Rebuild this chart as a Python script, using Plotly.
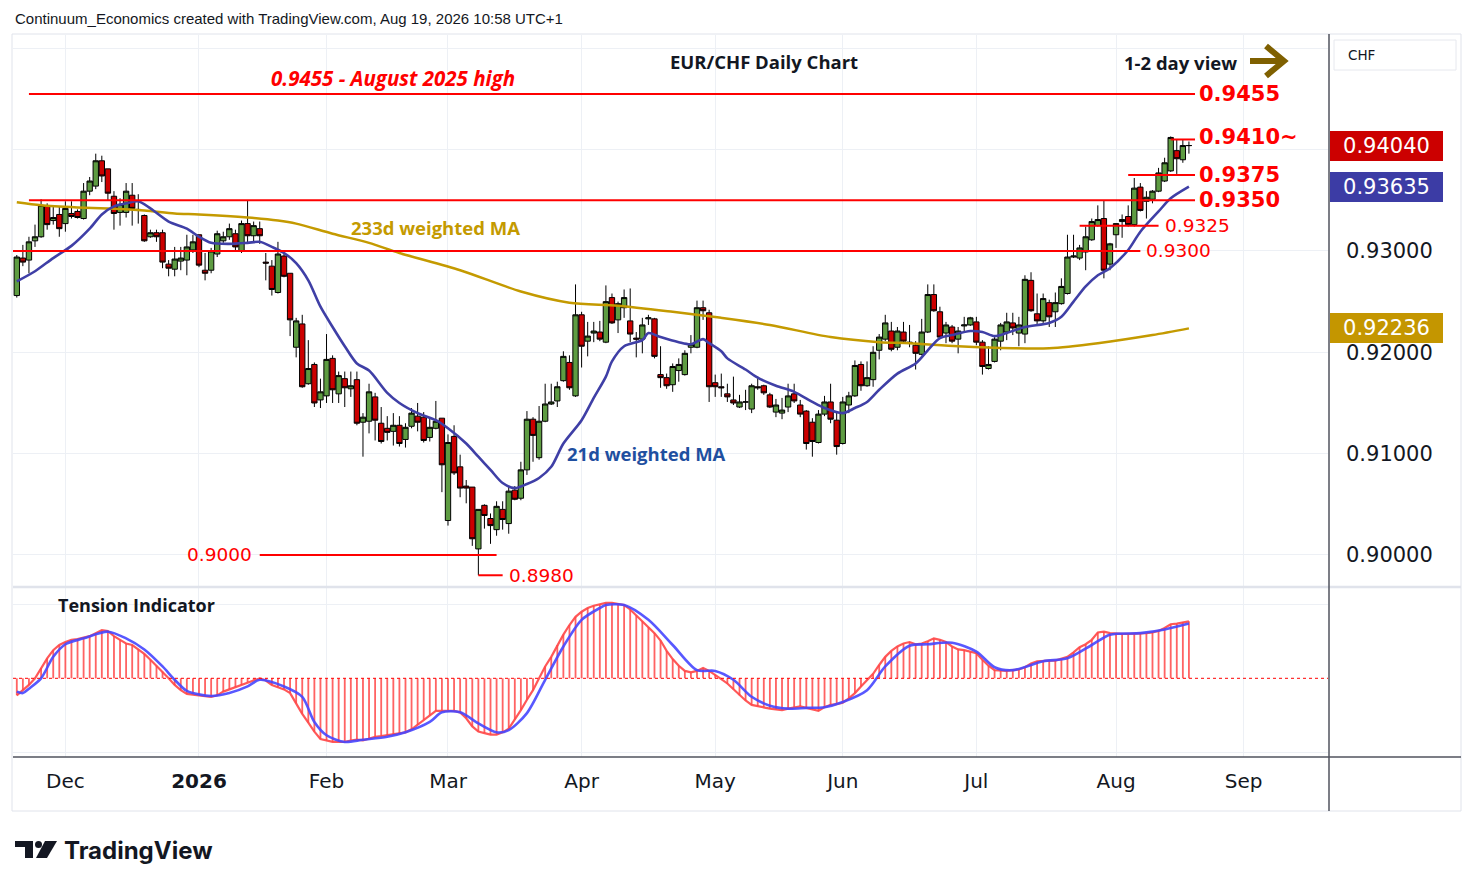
import pandas as pd
import plotly.graph_objects as go
from plotly.subplots import make_subplots

# trading days shown (FX, no bars on Christmas / New Year)
holidays = ["2025-12-25", "2026-01-01"]
days = pd.bdate_range("2025-11-19", "2026-09-18")
days = days[~days.isin(pd.to_datetime(holidays))]

open_ = [
    0.9256, 0.9293, 0.9291, 0.9310, 0.9314, 0.9344, 0.9330, 0.9336, 0.9327, 0.9337,
    0.9339, 0.9332, 0.9359, 0.9364, 0.9389, 0.9381, 0.9354, 0.9338, 0.9338, 0.9355,
    0.9341, 0.9335, 0.9314, 0.9318, 0.9318, 0.9287, 0.9282, 0.9290, 0.9291, 0.9301,
    0.9316, 0.9281, 0.9281, 0.9297, 0.9310, 0.9314, 0.9317, 0.9300, 0.9327, 0.9315,
    0.9322, 0.9289, 0.9285, 0.9259, 0.9295, 0.9278, 0.9205, 0.9228, 0.9169, 0.9188,
    0.9153, 0.9157, 0.9194, 0.9159, 0.9174, 0.9164, 0.9173, 0.9131, 0.9132, 0.9156,
    0.9130, 0.9125, 0.9122, 0.9128, 0.9114, 0.9127, 0.9137, 0.9136, 0.9116, 0.9125,
    0.9135, 0.9034, 0.9117, 0.9087, 0.9068, 0.9067, 0.9006, 0.9049, 0.9036, 0.9025,
    0.9045, 0.9031, 0.9064, 0.9056, 0.9084, 0.9134, 0.9096, 0.9132, 0.9149, 0.9152,
    0.9172, 0.9190, 0.9157, 0.9237, 0.9211, 0.9219, 0.9220, 0.9210, 0.9254, 0.9232,
    0.9244, 0.9231, 0.9214, 0.9213, 0.9233, 0.9233, 0.9178, 0.9175, 0.9168, 0.9182,
    0.9178, 0.9205, 0.9205, 0.9244, 0.9239, 0.9170, 0.9166, 0.9159, 0.9153, 0.9146,
    0.9151, 0.9144, 0.9166, 0.9167, 0.9158, 0.9141, 0.9140, 0.9146, 0.9159, 0.9148,
    0.9142, 0.9131, 0.9111, 0.9139, 0.9151, 0.9133, 0.9110, 0.9148, 0.9157, 0.9188,
    0.9167, 0.9173, 0.9202, 0.9213, 0.9221, 0.9205, 0.9220, 0.9210, 0.9207, 0.9198,
    0.9220, 0.9257, 0.9240, 0.9219, 0.9225, 0.9213, 0.9226, 0.9227, 0.9230, 0.9210,
    0.9184, 0.9191, 0.9211, 0.9220, 0.9229, 0.9219, 0.9218, 0.9271, 0.9238, 0.9231,
    0.9249, 0.9240, 0.9248, 0.9258, 0.9294, 0.9293, 0.9299, 0.9311, 0.9325, 0.9332,
    0.9287, 0.9316, 0.9329, 0.9334, 0.9326, 0.9363, 0.9349, 0.9351, 0.9359, 0.9369,
    0.9379, 0.9399, 0.9390, 0.9404,
]
high = [
    0.9296, 0.9306, 0.9314, 0.9326, 0.9351, 0.9347, 0.9345, 0.9344, 0.9349, 0.9349,
    0.9341, 0.9367, 0.9373, 0.9396, 0.9394, 0.9381, 0.9359, 0.9352, 0.9367, 0.9367,
    0.9356, 0.9336, 0.9321, 0.9321, 0.9321, 0.9291, 0.9304, 0.9304, 0.9316, 0.9316,
    0.9316, 0.9298, 0.9303, 0.9320, 0.9319, 0.9327, 0.9321, 0.9330, 0.9350, 0.9329,
    0.9329, 0.9298, 0.9291, 0.9309, 0.9298, 0.9278, 0.9234, 0.9237, 0.9212, 0.9190,
    0.9174, 0.9218, 0.9197, 0.9181, 0.9181, 0.9181, 0.9181, 0.9140, 0.9169, 0.9160,
    0.9146, 0.9137, 0.9140, 0.9137, 0.9130, 0.9145, 0.9150, 0.9141, 0.9135, 0.9152,
    0.9135, 0.9119, 0.9128, 0.9099, 0.9074, 0.9067, 0.9045, 0.9050, 0.9041, 0.9053,
    0.9053, 0.9067, 0.9068, 0.9092, 0.9142, 0.9136, 0.9147, 0.9169, 0.9169, 0.9171,
    0.9201, 0.9197, 0.9267, 0.9240, 0.9230, 0.9230, 0.9231, 0.9266, 0.9258, 0.9250,
    0.9262, 0.9263, 0.9220, 0.9234, 0.9237, 0.9234, 0.9206, 0.9179, 0.9189, 0.9194,
    0.9202, 0.9217, 0.9251, 0.9251, 0.9242, 0.9178, 0.9179, 0.9169, 0.9176, 0.9158,
    0.9163, 0.9169, 0.9176, 0.9168, 0.9160, 0.9154, 0.9155, 0.9169, 0.9169, 0.9153,
    0.9143, 0.9135, 0.9143, 0.9157, 0.9169, 0.9141, 0.9156, 0.9161, 0.9192, 0.9191,
    0.9191, 0.9206, 0.9218, 0.9237, 0.9230, 0.9225, 0.9230, 0.9227, 0.9211, 0.9233,
    0.9267, 0.9267, 0.9245, 0.9230, 0.9227, 0.9225, 0.9235, 0.9235, 0.9235, 0.9212,
    0.9206, 0.9215, 0.9229, 0.9239, 0.9239, 0.9235, 0.9276, 0.9279, 0.9258, 0.9258,
    0.9252, 0.9259, 0.9273, 0.9316, 0.9316, 0.9306, 0.9324, 0.9332, 0.9345, 0.9350,
    0.9308, 0.9327, 0.9336, 0.9345, 0.9372, 0.9367, 0.9359, 0.9360, 0.9382, 0.9392,
    0.9413, 0.9410, 0.9410, 0.9408,
]
low = [
    0.9254, 0.9285, 0.9278, 0.9304, 0.9313, 0.9321, 0.9326, 0.9314, 0.9319, 0.9332,
    0.9332, 0.9331, 0.9355, 0.9361, 0.9368, 0.9350, 0.9321, 0.9325, 0.9333, 0.9325,
    0.9327, 0.9309, 0.9313, 0.9309, 0.9283, 0.9275, 0.9275, 0.9281, 0.9276, 0.9298,
    0.9284, 0.9271, 0.9278, 0.9294, 0.9308, 0.9311, 0.9299, 0.9298, 0.9308, 0.9309,
    0.9307, 0.9271, 0.9256, 0.9258, 0.9274, 0.9216, 0.9195, 0.9165, 0.9168, 0.9146,
    0.9145, 0.9150, 0.9150, 0.9150, 0.9146, 0.9156, 0.9128, 0.9097, 0.9120, 0.9113,
    0.9110, 0.9113, 0.9108, 0.9107, 0.9106, 0.9125, 0.9122, 0.9111, 0.9112, 0.9124,
    0.9062, 0.9029, 0.9079, 0.9057, 0.9051, 0.9009, 0.8980, 0.9026, 0.9011, 0.9019,
    0.9025, 0.9021, 0.9054, 0.9054, 0.9079, 0.9092, 0.9094, 0.9131, 0.9148, 0.9146,
    0.9171, 0.9163, 0.9156, 0.9185, 0.9196, 0.9210, 0.9211, 0.9209, 0.9228, 0.9219,
    0.9234, 0.9210, 0.9195, 0.9199, 0.9227, 0.9194, 0.9165, 0.9164, 0.9161, 0.9171,
    0.9177, 0.9199, 0.9204, 0.9232, 0.9151, 0.9156, 0.9156, 0.9151, 0.9148, 0.9145,
    0.9143, 0.9140, 0.9163, 0.9158, 0.9145, 0.9136, 0.9134, 0.9141, 0.9150, 0.9136,
    0.9104, 0.9097, 0.9110, 0.9137, 0.9130, 0.9099, 0.9109, 0.9140, 0.9156, 0.9162,
    0.9166, 0.9166, 0.9193, 0.9211, 0.9201, 0.9202, 0.9209, 0.9205, 0.9183, 0.9197,
    0.9219, 0.9240, 0.9214, 0.9209, 0.9209, 0.9199, 0.9220, 0.9226, 0.9207, 0.9178,
    0.9183, 0.9190, 0.9202, 0.9212, 0.9217, 0.9206, 0.9209, 0.9240, 0.9227, 0.9229,
    0.9225, 0.9225, 0.9247, 0.9257, 0.9293, 0.9291, 0.9281, 0.9310, 0.9324, 0.9273,
    0.9281, 0.9303, 0.9313, 0.9324, 0.9324, 0.9339, 0.9332, 0.9347, 0.9358, 0.9368,
    0.9378, 0.9376, 0.9387, 0.9396,
]
close = [
    0.9294, 0.9289, 0.9309, 0.9314, 0.9345, 0.9326, 0.9333, 0.9322, 0.9342, 0.9334,
    0.9333, 0.9359, 0.9369, 0.9389, 0.9374, 0.9357, 0.9337, 0.9346, 0.9359, 0.9342,
    0.9340, 0.9310, 0.9318, 0.9314, 0.9289, 0.9283, 0.9292, 0.9293, 0.9304, 0.9309,
    0.9286, 0.9278, 0.9300, 0.9317, 0.9314, 0.9322, 0.9304, 0.9327, 0.9315, 0.9325,
    0.9315, 0.9288, 0.9262, 0.9297, 0.9275, 0.9232, 0.9231, 0.9166, 0.9184, 0.9150,
    0.9161, 0.9193, 0.9163, 0.9177, 0.9165, 0.9167, 0.9130, 0.9136, 0.9161, 0.9133,
    0.9112, 0.9121, 0.9128, 0.9110, 0.9126, 0.9140, 0.9131, 0.9113, 0.9126, 0.9132,
    0.9089, 0.9111, 0.9081, 0.9066, 0.9066, 0.9016, 0.9045, 0.9039, 0.9029, 0.9048,
    0.9035, 0.9063, 0.9055, 0.9084, 0.9134, 0.9118, 0.9132, 0.9149, 0.9151, 0.9166,
    0.9196, 0.9165, 0.9237, 0.9206, 0.9216, 0.9221, 0.9213, 0.9250, 0.9229, 0.9248,
    0.9254, 0.9218, 0.9213, 0.9227, 0.9234, 0.9196, 0.9175, 0.9167, 0.9186, 0.9188,
    0.9199, 0.9208, 0.9244, 0.9241, 0.9166, 0.9166, 0.9165, 0.9156, 0.9150, 0.9151,
    0.9151, 0.9167, 0.9165, 0.9160, 0.9146, 0.9148, 0.9143, 0.9157, 0.9152, 0.9139,
    0.9110, 0.9112, 0.9139, 0.9151, 0.9134, 0.9107, 0.9151, 0.9157, 0.9187, 0.9167,
    0.9175, 0.9200, 0.9215, 0.9229, 0.9203, 0.9221, 0.9211, 0.9209, 0.9199, 0.9220,
    0.9257, 0.9241, 0.9215, 0.9227, 0.9211, 0.9221, 0.9227, 0.9234, 0.9210, 0.9186,
    0.9188, 0.9213, 0.9227, 0.9230, 0.9224, 0.9227, 0.9272, 0.9241, 0.9231, 0.9253,
    0.9235, 0.9249, 0.9265, 0.9294, 0.9295, 0.9303, 0.9314, 0.9329, 0.9331, 0.9281,
    0.9307, 0.9327, 0.9331, 0.9326, 0.9362, 0.9340, 0.9353, 0.9359, 0.9377, 0.9387,
    0.9412, 0.9391, 0.9404, 0.9404,
]

# 21d weighted MA (day index, value)
wma21_idx = [0, 3, 6, 9, 12, 14, 16, 18, 20, 22, 25, 28, 30, 32, 35, 38, 40, 42, 44, 46,
             48, 50, 52, 54, 56, 58, 61, 63, 66, 69, 71, 74, 76, 78, 80, 82, 84, 86, 88, 90,
             93, 95, 97, 98, 100, 103, 104, 106, 109, 111, 113, 114, 116, 117, 120, 122, 125,
             128, 131, 133, 136, 138, 140, 142, 145, 148, 150, 152, 154, 157, 159, 161, 163,
             166, 170, 172, 174, 176, 178, 180, 183, 185, 188, 190, 193]
wma21_val = [0.9270, 0.9280, 0.9293, 0.9305, 0.9322, 0.9336, 0.9344, 0.9347, 0.9349, 0.9342,
             0.9329, 0.9322, 0.9314, 0.9308, 0.9307, 0.9308, 0.9309, 0.9304, 0.9298, 0.9288,
             0.9271, 0.9245, 0.9225, 0.9206, 0.9189, 0.9182, 0.9160, 0.9150, 0.9140, 0.9133,
             0.9125, 0.9110, 0.9097, 0.9084, 0.9071, 0.9066, 0.9070, 0.9076, 0.9087, 0.9110,
             0.9133, 0.9155, 0.9176, 0.9191, 0.9206, 0.9212, 0.9219, 0.9215, 0.9210, 0.9208,
             0.9213, 0.9209, 0.9201, 0.9194, 0.9183, 0.9175, 0.9167, 0.9161, 0.9151, 0.9145,
             0.9140, 0.9145, 0.9151, 0.9163, 0.9179, 0.9189, 0.9202, 0.9214, 0.9217, 0.9221,
             0.9220, 0.9216, 0.9219, 0.9225, 0.9229, 0.9235, 0.9250, 0.9265, 0.9276, 0.9283,
             0.9301, 0.9319, 0.9339, 0.9352, 0.93635]

# 233d weighted MA
wma233_idx = [0, 4, 10, 15, 21, 26, 30, 38, 43, 46, 52, 58, 63, 73, 83, 91, 99, 108, 116,
              124, 134, 142, 147, 155, 164, 170, 178, 187, 193]
wma233_val = [0.9348, 0.9345, 0.9343, 0.9342, 0.9340, 0.9337, 0.9336, 0.9333, 0.9330, 0.9327,
              0.9317, 0.9308, 0.9298, 0.9281, 0.9260, 0.9249, 0.9246, 0.9240, 0.9234, 0.9227,
              0.9215, 0.9210, 0.9209, 0.9206, 0.9204, 0.9204, 0.9209, 0.9217, 0.92236]

# Tension Indicator (one value per day) and its signal line
tension = [
    -0.23, -0.16, -0.09, 0.00, 0.14, 0.27, 0.38, 0.45, 0.49, 0.52,
    0.53, 0.55, 0.57, 0.61, 0.65, 0.64, 0.57, 0.52, 0.47, 0.45,
    0.39, 0.33, 0.25, 0.17, 0.09, 0.00, -0.09, -0.16, -0.21, -0.22,
    -0.23, -0.24, -0.25, -0.23, -0.18, -0.15, -0.12, -0.09, -0.05, -0.02,
    0.00, -0.03, -0.09, -0.12, -0.15, -0.20, -0.34, -0.48, -0.60, -0.72,
    -0.82, -0.84, -0.86, -0.86, -0.86, -0.84, -0.83, -0.84, -0.81, -0.79,
    -0.78, -0.77, -0.76, -0.75, -0.73, -0.69, -0.63, -0.56, -0.50, -0.44,
    -0.44, -0.44, -0.44, -0.46, -0.54, -0.65, -0.72, -0.74, -0.76, -0.76,
    -0.73, -0.68, -0.56, -0.43, -0.29, -0.16, 0.00, 0.16, 0.29, 0.45,
    0.59, 0.72, 0.83, 0.90, 0.95, 0.98, 1.00, 1.02, 1.02, 1.01,
    0.99, 0.93, 0.85, 0.77, 0.69, 0.61, 0.51, 0.37, 0.26, 0.17,
    0.10, 0.08, 0.10, 0.14, 0.10, 0.05, -0.01, -0.07, -0.15, -0.23,
    -0.30, -0.36, -0.38, -0.39, -0.41, -0.42, -0.43, -0.41, -0.39, -0.38,
    -0.40, -0.42, -0.44, -0.39, -0.36, -0.35, -0.33, -0.27, -0.20, -0.11,
    -0.02, 0.06, 0.18, 0.29, 0.37, 0.43, 0.47, 0.49, 0.46, 0.47,
    0.50, 0.54, 0.52, 0.49, 0.43, 0.39, 0.38, 0.36, 0.34, 0.25,
    0.17, 0.11, 0.10, 0.10, 0.11, 0.12, 0.15, 0.20, 0.23, 0.24,
    0.24, 0.24, 0.26, 0.29, 0.35, 0.42, 0.46, 0.52, 0.62, 0.63,
    0.61, 0.60, 0.60, 0.60, 0.60, 0.61, 0.61, 0.62, 0.64, 0.68,
    0.73, 0.74, 0.76, 0.77,
]
signal_idx = [0, 1, 2, 4, 6, 8, 11, 15, 18, 21, 24, 26, 28, 32, 35, 38, 40, 44, 47, 49,
              51, 54, 57, 61, 64, 68, 70, 73, 76, 79, 81, 84, 87, 90, 93, 96, 97, 100, 104,
              108, 112, 115, 118, 121, 124, 127, 130, 133, 136, 140, 143, 147, 150, 154, 158,
              161, 164, 169, 173, 177, 180, 185, 189, 193]
signal_val = [-0.18, -0.20, -0.14, 0.00, 0.29, 0.46, 0.54, 0.63, 0.54, 0.39, 0.16, -0.02,
              -0.17, -0.24, -0.20, -0.11, -0.02, -0.11, -0.25, -0.59, -0.77, -0.86, -0.83,
              -0.79, -0.73, -0.59, -0.46, -0.46, -0.61, -0.73, -0.70, -0.47, -0.02, 0.43,
              0.79, 0.95, 0.99, 0.99, 0.79, 0.45, 0.11, 0.10, -0.02, -0.25, -0.37, -0.41,
              -0.40, -0.39, -0.32, -0.16, 0.16, 0.44, 0.46, 0.48, 0.36, 0.15, 0.11, 0.23,
              0.27, 0.45, 0.59, 0.61, 0.66, 0.74]

# horizontal levels drawn on the chart: value, first day, last day (-1 = left edge)
levels = [0.9455, 0.9410, 0.9375, 0.9350, 0.9325, 0.9300, 0.9000, 0.8980]
level_start = [2, 190, 183, 2, 175, -1, 40, 76]
level_end = [194, 194, 194, 194, 188, 185, 79, 80]

month_ticks = ["2025-12-01", "2026-01-02", "2026-02-02", "2026-03-02", "2026-04-01",
               "2026-05-01", "2026-06-01", "2026-07-01", "2026-08-03", "2026-09-01"]
month_labels = ["Dec", "<b>2026</b>", "Feb", "Mar", "Apr", "May", "Jun", "Jul", "Aug", "Sep"]

price_ticks = [0.90, 0.91, 0.92, 0.93, 0.94, 0.95]
price_labels = ["0.90000", "0.91000", "0.92000", "0.93000", "", ""]

# ---- geometry (page pixels; the page body adds an 8px offset) ----
PAGE_OFF = 8
W, H = 1474 - PAGE_OFF, 887 - PAGE_OFF
L_PX, R_PX, T_PX, B_PX = 13, 1328, 35, 757


def xp(px):
    return (px - L_PX) / (R_PX - L_PX)


def yp(py):
    return (B_PX - py) / (B_PX - T_PX)


dates = days[:len(close)]
x_left = days[0] - pd.Timedelta(hours=15)
x_right = days[-1] + pd.Timedelta(hours=21, minutes=36)

RED = "#ff0000"
GOLD = "#c49a00"
BLUE_MA = "#3f3fa6"

fig = make_subplots(rows=2, cols=1, shared_xaxes=True, vertical_spacing=0.005)

fig.add_trace(go.Candlestick(
    x=dates, open=open_, high=high, low=low, close=close,
    increasing=dict(fillcolor="#5e9c42", line=dict(color="#000000", width=1)),
    decreasing=dict(fillcolor="#cc0000", line=dict(color="#000000", width=1)),
    whiskerwidth=0, hoverinfo="skip", showlegend=False), row=1, col=1)

fig.add_trace(go.Scatter(
    x=[days[i] for i in wma233_idx], y=wma233_val, mode="lines",
    line=dict(color=GOLD, width=2.5, shape="spline", smoothing=0.8),
    hoverinfo="skip"), row=1, col=1)
fig.add_trace(go.Scatter(
    x=[days[i] for i in wma21_idx], y=wma21_val, mode="lines",
    line=dict(color=BLUE_MA, width=2.6, shape="spline", smoothing=0.8),
    hoverinfo="skip"), row=1, col=1)

for lvl, s, e in zip(levels, level_start, level_end):
    x0 = x_left if s < 0 else days[s]
    fig.add_trace(go.Scatter(
        x=[x0, days[e]], y=[lvl, lvl], mode="lines",
        line=dict(color=RED, width=2), hoverinfo="skip"), row=1, col=1)

# tension indicator pane
fig.add_trace(go.Bar(
    x=dates, y=tension, width=0.3 * 86400000,
    marker=dict(color="rgba(255,60,60,0.8)", line=dict(width=0)),
    hoverinfo="skip"), row=2, col=1)
fig.add_trace(go.Scatter(
    x=dates, y=tension, mode="lines",
    line=dict(color="rgba(255,70,70,0.9)", width=2.2), hoverinfo="skip"), row=2, col=1)
fig.add_trace(go.Scatter(
    x=[days[i] for i in signal_idx], y=signal_val, mode="lines",
    line=dict(color="rgba(70,70,255,0.9)", width=2.6, shape="spline", smoothing=0.8),
    hoverinfo="skip"), row=2, col=1)

grid = "#edf0f5"
fig.update_xaxes(
    type="date", range=[x_left, x_right],
    rangebreaks=[dict(bounds=["sat", "mon"]), dict(values=holidays)],
    tickvals=month_ticks, ticktext=month_labels,
    showgrid=True, gridcolor=grid, gridwidth=1, zeroline=False, showline=False,
    ticks="", rangeslider_visible=False,
    tickfont=dict(family="DejaVu Sans", size=20, color="#131722"))
fig.update_xaxes(ticklabelstandoff=10, row=2, col=1)

fig.update_layout(
    width=W, height=H,
    margin=dict(l=L_PX - PAGE_OFF, r=W - (R_PX - PAGE_OFF), t=T_PX - PAGE_OFF,
                b=H - (B_PX - PAGE_OFF)),
    paper_bgcolor="white", plot_bgcolor="white", showlegend=False,
    boxgap=0.12, boxgroupgap=0,
    font=dict(family="DejaVu Sans", color="#131722"),
    yaxis=dict(domain=[(B_PX - 586) / (B_PX - T_PX), 1], range=[0.89694, 0.95131],
               side="right", tickvals=price_ticks, ticktext=price_labels,
               showgrid=True, gridcolor=grid, zeroline=False, ticks="",
               ticklabelstandoff=17,
               tickfont=dict(family="DejaVu Sans", size=21, color="#131722")),
    yaxis2=dict(domain=[0, (B_PX - 588) / (B_PX - T_PX)], range=[-1.0635, 1.2203],
                side="right", tickvals=[-1, 1], showticklabels=False,
                showgrid=True, gridcolor=grid, zeroline=False, ticks=""),
)

ann = []


def text(x, y, s, size, color="#131722", family="Open Sans", anchor="center", **kw):
    ann.append(dict(x=x, y=y, xref="paper", yref="paper", text=s, showarrow=False,
                    xanchor=anchor, yanchor="middle",
                    font=dict(family=family, size=size, color=color), **kw))


text(xp(13), yp(19), "Continuum_Economics created with TradingView.com, Aug 19, 2026 10:58 UTC+1",
     15, family="Liberation Sans", anchor="left")
text(xp(764), yp(62), "<b>EUR/CHF Daily Chart</b>", 18.5)
text(xp(1180), yp(63), "<b>1-2 day view</b>", 18.5)
text(xp(393), yp(78), "<b><i>0.9455 - August 2025 high</i></b>", 20.5, color=RED)
text(xp(435), yp(227), "<b>233d weighted MA</b>", 18.5, color=GOLD)
text(xp(646), yp(453), "<b>21d weighted MA</b>", 18.5, color="#1f4fa0")
text(xp(136), yp(605), "<b>Tension Indicator</b>", 18)
text(xp(1346), yp(55), "CHF", 13.5, family="DejaVu Sans", anchor="left")
text(xp(62), yp(850), "<b>TradingView</b>", 24, family="Inter", anchor="left")

# level labels
big = dict(family="DejaVu Sans", size=21, color=RED)
small = dict(family="DejaVu Sans", size=18.5, color=RED)
level_text = ["<b>0.9455</b>", "<b>0.9410~</b>", "<b>0.9375</b>", "<b>0.9350</b>",
              "0.9325", "0.9300", "0.9000", "0.8980"]
for i, (lvl, t) in enumerate(zip(levels, level_text)):
    if i < 4:
        ax, anc, sh, f = days[level_end[i]], "left", 2, big
    elif i == 6:
        ax, anc, sh, f = days[level_start[i]], "right", -6, small
    else:
        ax, anc, sh, f = days[level_end[i]], "left", 4, small
    ann.append(dict(x=ax, y=lvl, xref="x", yref="y", text=t, showarrow=False,
                    xanchor=anc, yanchor="middle", xshift=sh, yshift=2 if i == 1 else 0,
                    font=f))

# last-value boxes on the price scale
for val, col in [(close[-1], "#cc0000"), (wma21_val[-1], "#3c3ca5"), (wma233_val[-1], "#c49600")]:
    ann.append(dict(x=xp(1330), y=val, xref="paper", yref="y", text=f"{val:.5f}",
                    showarrow=False, xanchor="left", yanchor="middle",
                    bgcolor=col, width=107, height=24, borderpad=2, borderwidth=1,
                    bordercolor=col, align="center",
                    font=dict(family="DejaVu Sans", size=21, color="white")))

fig.update_layout(annotations=ann)

shapes = []


def pline(x0, y0, x1, y1, color, width, dash=None):
    shapes.append(dict(type="line", xref="paper", yref="paper", x0=xp(x0), y0=yp(y0),
                       x1=xp(x1), y1=yp(y1), line=dict(color=color, width=width, dash=dash),
                       layer="above"))


# frame
shapes.append(dict(type="rect", xref="paper", yref="paper", x0=xp(12), x1=xp(1461),
                   y0=yp(811), y1=yp(34), line=dict(color="#e0e3eb", width=1), layer="above"))
pline(13, 587, 1461, 587, "#e0e3eb", 2.5)
pline(13, 757, 1461, 757, "#50535e", 1.5)
pline(1329, 34, 1329, 811, "#50535e", 1.5)
# CHF box
shapes.append(dict(type="rect", xref="paper", yref="paper", x0=xp(1334), x1=xp(1456),
                   y0=yp(70), y1=yp(40), line=dict(color="#e6e8ee", width=1),
                   fillcolor="white", layer="below"))
# arrow next to "1-2 day view"
pline(1250, 61, 1282, 61, "#7f6000", 6)
shapes.append(dict(type="path", xref="paper", yref="paper",
                   path=f"M {xp(1266)},{yp(46)} L {xp(1284)},{yp(61)} L {xp(1266)},{yp(76)}",
                   line=dict(color="#7f6000", width=6), layer="above"))
# zero line of the indicator
shapes.append(dict(type="line", xref="paper", yref="y2", x0=0, x1=1, y0=0, y1=0,
                   line=dict(color=RED, width=1, dash="dot"), layer="above"))
# TradingView logo mark
shapes.append(dict(type="rect", xref="paper", yref="paper", x0=xp(15), x1=xp(33),
                   y0=yp(847), y1=yp(841), fillcolor="#131722", line=dict(width=0)))
shapes.append(dict(type="rect", xref="paper", yref="paper", x0=xp(25), x1=xp(33),
                   y0=yp(858), y1=yp(841), fillcolor="#131722", line=dict(width=0)))
shapes.append(dict(type="circle", xref="paper", yref="paper", x0=xp(35), x1=xp(42),
                   y0=yp(848), y1=yp(841), fillcolor="#131722", line=dict(width=0)))
shapes.append(dict(type="path", xref="paper", yref="paper",
                   path=f"M {xp(45)},{yp(841)} L {xp(57)},{yp(841)} L {xp(47)},{yp(858)} "
                        f"L {xp(36)},{yp(858)} Z",
                   fillcolor="#131722", line=dict(width=0)))
fig.update_layout(shapes=shapes)

fig.write_html("out.html")
